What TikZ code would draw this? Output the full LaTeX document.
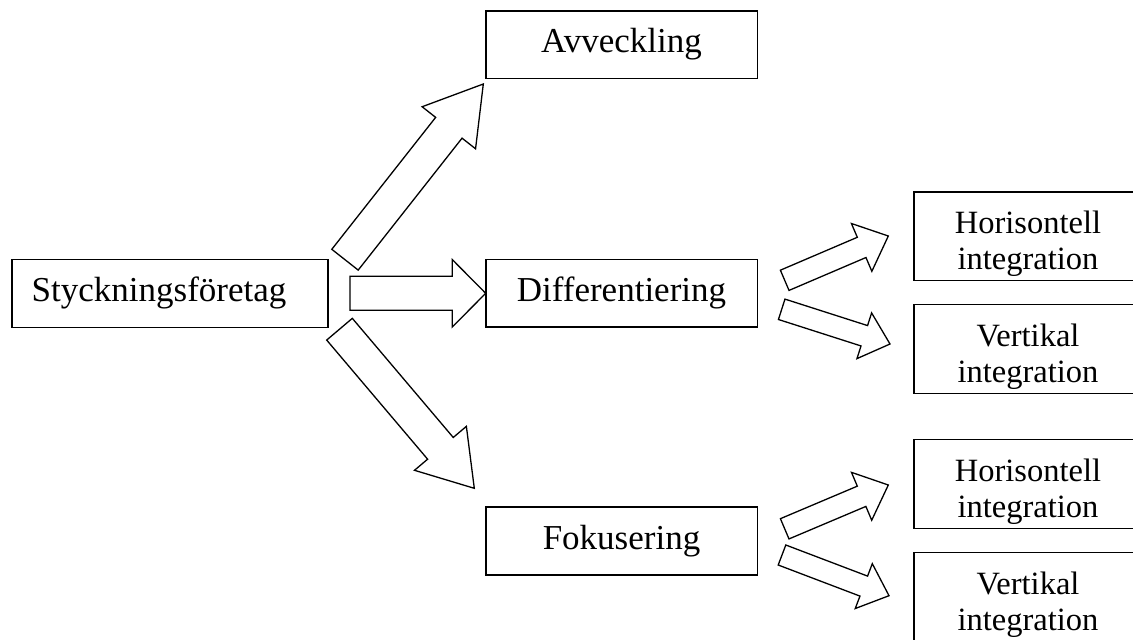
\documentclass[tikz,border=0pt]{standalone}
\usepackage{fontspec}
\setmainfont{Liberation Serif}
\usetikzlibrary{calc}
\tikzset{
  plainbox/.style={draw, line width=1.6pt, inner sep=0pt, font=\fontsize{35}{40}\selectfont},
  lbox/.style={plainbox, minimum width=271.6pt, minimum height=67.6pt},
  rbox/.style={draw, line width=1.6pt, inner sep=0pt, minimum width=228pt, minimum height=88.8pt},
  rtext/.style={anchor=base, inner sep=0pt, font=\fontsize{32.5}{36}\selectfont},
  arrowline/.style={draw, line width=1.3pt, line join=miter, fill=white},
}
% tail, tip, half shaft width, half head width, head length
\newcommand\blockarrow[5]{%
  \coordinate (ba-c) at ($(#2)!#5!(#1)$);
  \draw[arrowline] ($(#1)!#3!90:(#2)$) -- ($(ba-c)!#3!-90:(#1)$) -- ($(ba-c)!#4!-90:(#1)$)
     -- (#2) -- ($(ba-c)!#4!90:(#1)$) -- ($(ba-c)!#3!90:(#1)$) -- ($(#1)!#3!-90:(#2)$) -- cycle;
}
\newcommand\rtwo[3]{% node name, line 1, line 2
  \begin{scope}
    \clip ([yshift=4pt]#1.south west) rectangle (#1.north east);
    \node[rtext] (#1a) at ([yshift=-42.5pt]#1.north) {#2};
    \node[rtext] (#1b) at ([yshift=-79pt]#1.north) {#3};
  \end{scope}
}
\begin{document}
\begin{tikzpicture}[x=1pt, y=-1pt]
\useasboundingbox (0,0) rectangle (1133,640);
\fill[white] (0,0) rectangle (1133,640);
\clip (0,0) rectangle (1133,640);

% main boxes
\node[plainbox, minimum height=68pt, text width=276pt, inner xsep=20pt, align=left] (sty) at (169.7,293.3) {Styckningsföretag};
\node[lbox] (avv) at (621.5,44.5) {Avveckling};
\node[lbox] (dif) at (621.5,293.3) {Differentiering};
\node[lbox] (fok) at (621.5,541) {Fokusering};

% right boxes
\node[rbox] (r1) at (1028,236.1) {};
\node[rbox] (r2) at (1028,349) {};
\node[rbox] (r3) at (1028,484) {};
\node[rbox] (r4) at (1028,596.7) {};
\rtwo{r1}{Horisontell}{integration}
\rtwo{r2}{Vertikal}{integration}
\rtwo{r3}{Horisontell}{integration}
\rtwo{r4}{Vertikal}{integration}

% arrow end points
\coordinate (a1t) at (345,259.7);   \coordinate (a1h) at (483.3,84);
\coordinate (a2t) at (350,293.3);   \coordinate (a2h) at (485.7,293.3);
\coordinate (a3t) at (339.5,329.2); \coordinate (a3h) at (474.3,488.3);
\coordinate (b1t) at (784.7,280.3); \coordinate (b1h) at (888.3,236);
\coordinate (b2t) at (781.7,309.3); \coordinate (b2h) at (890,344);
\coordinate (c1t) at (784.7,528.8); \coordinate (c1h) at (888.3,485);
\coordinate (c2t) at (782,555);     \coordinate (c2h) at (889,595.7);

\blockarrow{a1t}{a1h}{16.8pt}{34pt}{55.7pt}
\blockarrow{a2t}{a2h}{17pt}{33.7pt}{33.4pt}
\blockarrow{a3t}{a3h}{16.8pt}{34pt}{52.4pt}
\blockarrow{b1t}{b1h}{11pt}{26pt}{29pt}
\blockarrow{b2t}{b2h}{10.7pt}{24pt}{27pt}
\blockarrow{c1t}{c1h}{11pt}{26pt}{29pt}
\blockarrow{c2t}{c2h}{10.7pt}{24pt}{27pt}
\end{tikzpicture}
\end{document}
